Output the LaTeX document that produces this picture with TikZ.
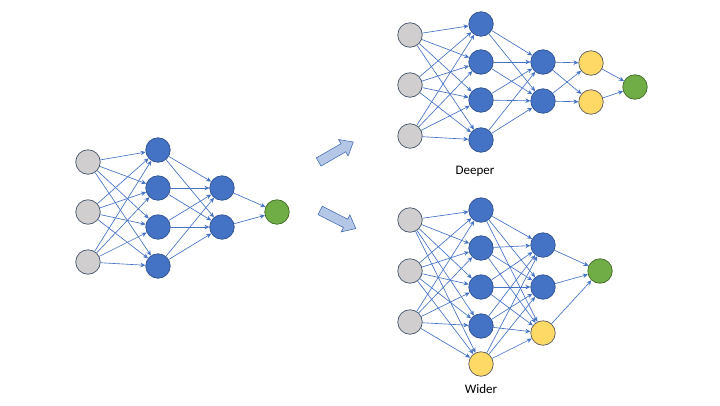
\documentclass[tikz,border=0pt]{standalone}
\usepackage{fontspec}
\setmainfont{Carlito}
\usetikzlibrary{arrows.meta}
\definecolor{nblue}{HTML}{4472C4}
\definecolor{nblueb}{HTML}{2F528F}
\definecolor{ngray}{HTML}{D0CECE}
\definecolor{ngrayb}{HTML}{44546A}
\definecolor{ngreen}{HTML}{70AD47}
\definecolor{ngreenb}{HTML}{3F6B25}
\definecolor{nyellow}{HTML}{FFD966}
\definecolor{nyellowb}{HTML}{5A5A5A}
\definecolor{edgec}{HTML}{4472C4}
\definecolor{arrfill}{HTML}{B4C7E7}
\definecolor{arrdraw}{HTML}{4A6FB5}
\tikzset{
  neuron/.style={circle,minimum size=24.5pt,inner sep=0pt,line width=0.7pt},
  inp/.style={neuron,fill=ngray,draw=ngrayb},
  hid/.style={neuron,fill=nblue,draw=nblueb},
  outn/.style={neuron,fill=ngreen,draw=ngreenb},
  newn/.style={neuron,fill=nyellow,draw=nyellowb},
  conn/.style={draw=edgec,line width=0.65pt,-{Stealth[length=5pt,width=4.5pt]}},
  blockarrow/.style={draw=arrdraw,fill=arrfill,line width=0.6pt,line join=miter},
  lbl/.style={font=\fontsize{13}{15}\selectfont,text=black}
}
\begin{document}
\begin{tikzpicture}[x=1pt,y=-1pt]
\useasboundingbox (0,0) rectangle (720,405);
% ---------- left network ----------
\node[inp] (a1) at (88,162) {};
\node[inp] (a2) at (88,212) {};
\node[inp] (a3) at (88,262) {};
\node[hid] (b1) at (158,150) {};
\node[hid] (b2) at (158,188) {};
\node[hid] (b3) at (158,227) {};
\node[hid] (b4) at (158,266) {};
\node[hid] (c1) at (222,188) {};
\node[hid] (c2) at (222,227) {};
\node[outn] (d1) at (277,212) {};
\foreach \i in {1,2,3}{\foreach \j in {1,2,3,4}{\draw[conn] (a\i) -- (b\j);}}
\foreach \i in {1,2,3,4}{\foreach \j in {1,2}{\draw[conn] (b\i) -- (c\j);}}
\foreach \i in {1,2}{\draw[conn] (c\i) -- (d1);}
% ---------- deeper network ----------
\node[inp] (p1) at (410,35) {};
\node[inp] (p2) at (410,85) {};
\node[inp] (p3) at (410,136) {};
\node[hid] (q1) at (481,24) {};
\node[hid] (q2) at (481,62) {};
\node[hid] (q3) at (481,100) {};
\node[hid] (q4) at (481,140) {};
\node[hid] (r1) at (543,62) {};
\node[hid] (r2) at (543,101) {};
\node[newn] (s1) at (591,63) {};
\node[newn] (s2) at (591,102) {};
\node[outn] (t1) at (635,87) {};
\foreach \i in {1,2,3}{\foreach \j in {1,2,3,4}{\draw[conn] (p\i) -- (q\j);}}
\foreach \i in {1,2,3,4}{\foreach \j in {1,2}{\draw[conn] (q\i) -- (r\j);}}
\foreach \i in {1,2}{\foreach \j in {1,2}{\draw[conn] (r\i) -- (s\j);}}
\foreach \i in {1,2}{\draw[conn] (s\i) -- (t1);}
\node[lbl] (deeper) at (475,171) {Deeper};
% ---------- wider network ----------
\node[inp] (u1) at (410,220) {};
\node[inp] (u2) at (410,271) {};
\node[inp] (u3) at (410,322) {};
\node[hid] (v1) at (481,210) {};
\node[hid] (v2) at (481,248) {};
\node[hid] (v3) at (481,287) {};
\node[hid] (v4) at (481,326) {};
\node[newn] (v5) at (481,364) {};
\node[hid] (w1) at (543,245) {};
\node[hid] (w2) at (543,287) {};
\node[newn] (w3) at (543,333) {};
\node[outn] (x1) at (600,271) {};
\foreach \i in {1,2,3}{\foreach \j in {1,2,3,4,5}{\draw[conn] (u\i) -- (v\j);}}
\foreach \i in {1,2,3,4,5}{\foreach \j in {1,2,3}{\draw[conn] (v\i) -- (w\j);}}
\foreach \i in {1,2,3}{\draw[conn] (w\i) -- (x1);}
\node[lbl] (wider) at (481,389) {Wider};
% ---------- block arrows ----------
\begin{scope}[shift={(336,152)},rotate=30]
  \draw[blockarrow] (-20,-4.7) -- (8.5,-4.7) -- (8.5,-9.5) -- (20,0) -- (8.5,9.5) -- (8.5,4.7) -- (-20,4.7) -- cycle;
\end{scope}
\begin{scope}[shift={(338,219.5)},rotate=-27]
  \draw[blockarrow] (-20,-4.7) -- (8.5,-4.7) -- (8.5,-9.5) -- (20,0) -- (8.5,9.5) -- (8.5,4.7) -- (-20,4.7) -- cycle;
\end{scope}
\end{tikzpicture}
\end{document}
